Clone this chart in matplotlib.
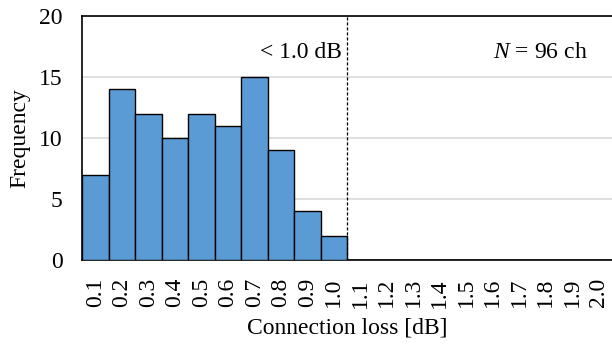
import matplotlib
matplotlib.use('Agg')
import matplotlib.pyplot as plt

plt.rcParams['font.family'] = ['Liberation Serif', 'DejaVu Serif']
plt.rcParams['mathtext.fontset'] = 'custom'
plt.rcParams['mathtext.it'] = 'Liberation Serif:italic'
plt.rcParams['mathtext.rm'] = 'Liberation Serif'

# 数据
bins = ['0.1', '0.2', '0.3', '0.4', '0.5', '0.6', '0.7', '0.8', '0.9', '1.0',
        '1.1', '1.2', '1.3', '1.4', '1.5', '1.6', '1.7', '1.8', '1.9', '2.0']
counts = [7, 14, 12, 10, 12, 11, 15, 9, 4, 2,
          0, 0, 0, 0, 0, 0, 0, 0, 0, 0]
threshold = '1.0'

fig = plt.figure(figsize=(6.12, 3.49), dpi=100)
ax = fig.add_axes([82/612, 1-260/349, 1-82/612, 244/349])

pos = list(range(len(bins)))
ax.bar(pos, counts, width=1.0, color='#5b9bd5', edgecolor='black', linewidth=1.0, zorder=3)

# 阈值虚线
xline = bins.index(threshold) + 0.5
ax.axvline(xline, color='black', linestyle=(0, (2.5, 1.5)), linewidth=0.9, zorder=4)

ax.text(xline - 0.2, 17.0, '< 1.0 dB', ha='right', va='center', fontsize=17)
ax.text(16.8, 17.0, r'$N$ = 96 ch', ha='center', va='center', fontsize=17)

ax.set_xlim(-0.5, len(bins) - 0.5)
ax.set_ylim(0, 20)
ax.set_yticks([0, 5, 10, 15, 20])
ax.set_xticks(pos)
ax.set_xticklabels(bins, rotation=90)
ax.tick_params(axis='both', length=0, labelsize=17)
ax.tick_params(axis='x', pad=13)
ax.tick_params(axis='y', pad=14)
ax.yaxis.grid(True, color='#d9d9d9', linewidth=1.2, zorder=0)
ax.set_axisbelow(True)

for s in ['top', 'left', 'bottom']:
    ax.spines[s].set_color('black')
    ax.spines[s].set_linewidth(1.2)
ax.spines['right'].set_visible(False)

ax.set_xlabel('Connection loss [dB]', fontsize=17, labelpad=7)
ax.set_ylabel('Frequency', fontsize=17, labelpad=6)

fig.savefig('out.png', dpi=100)
